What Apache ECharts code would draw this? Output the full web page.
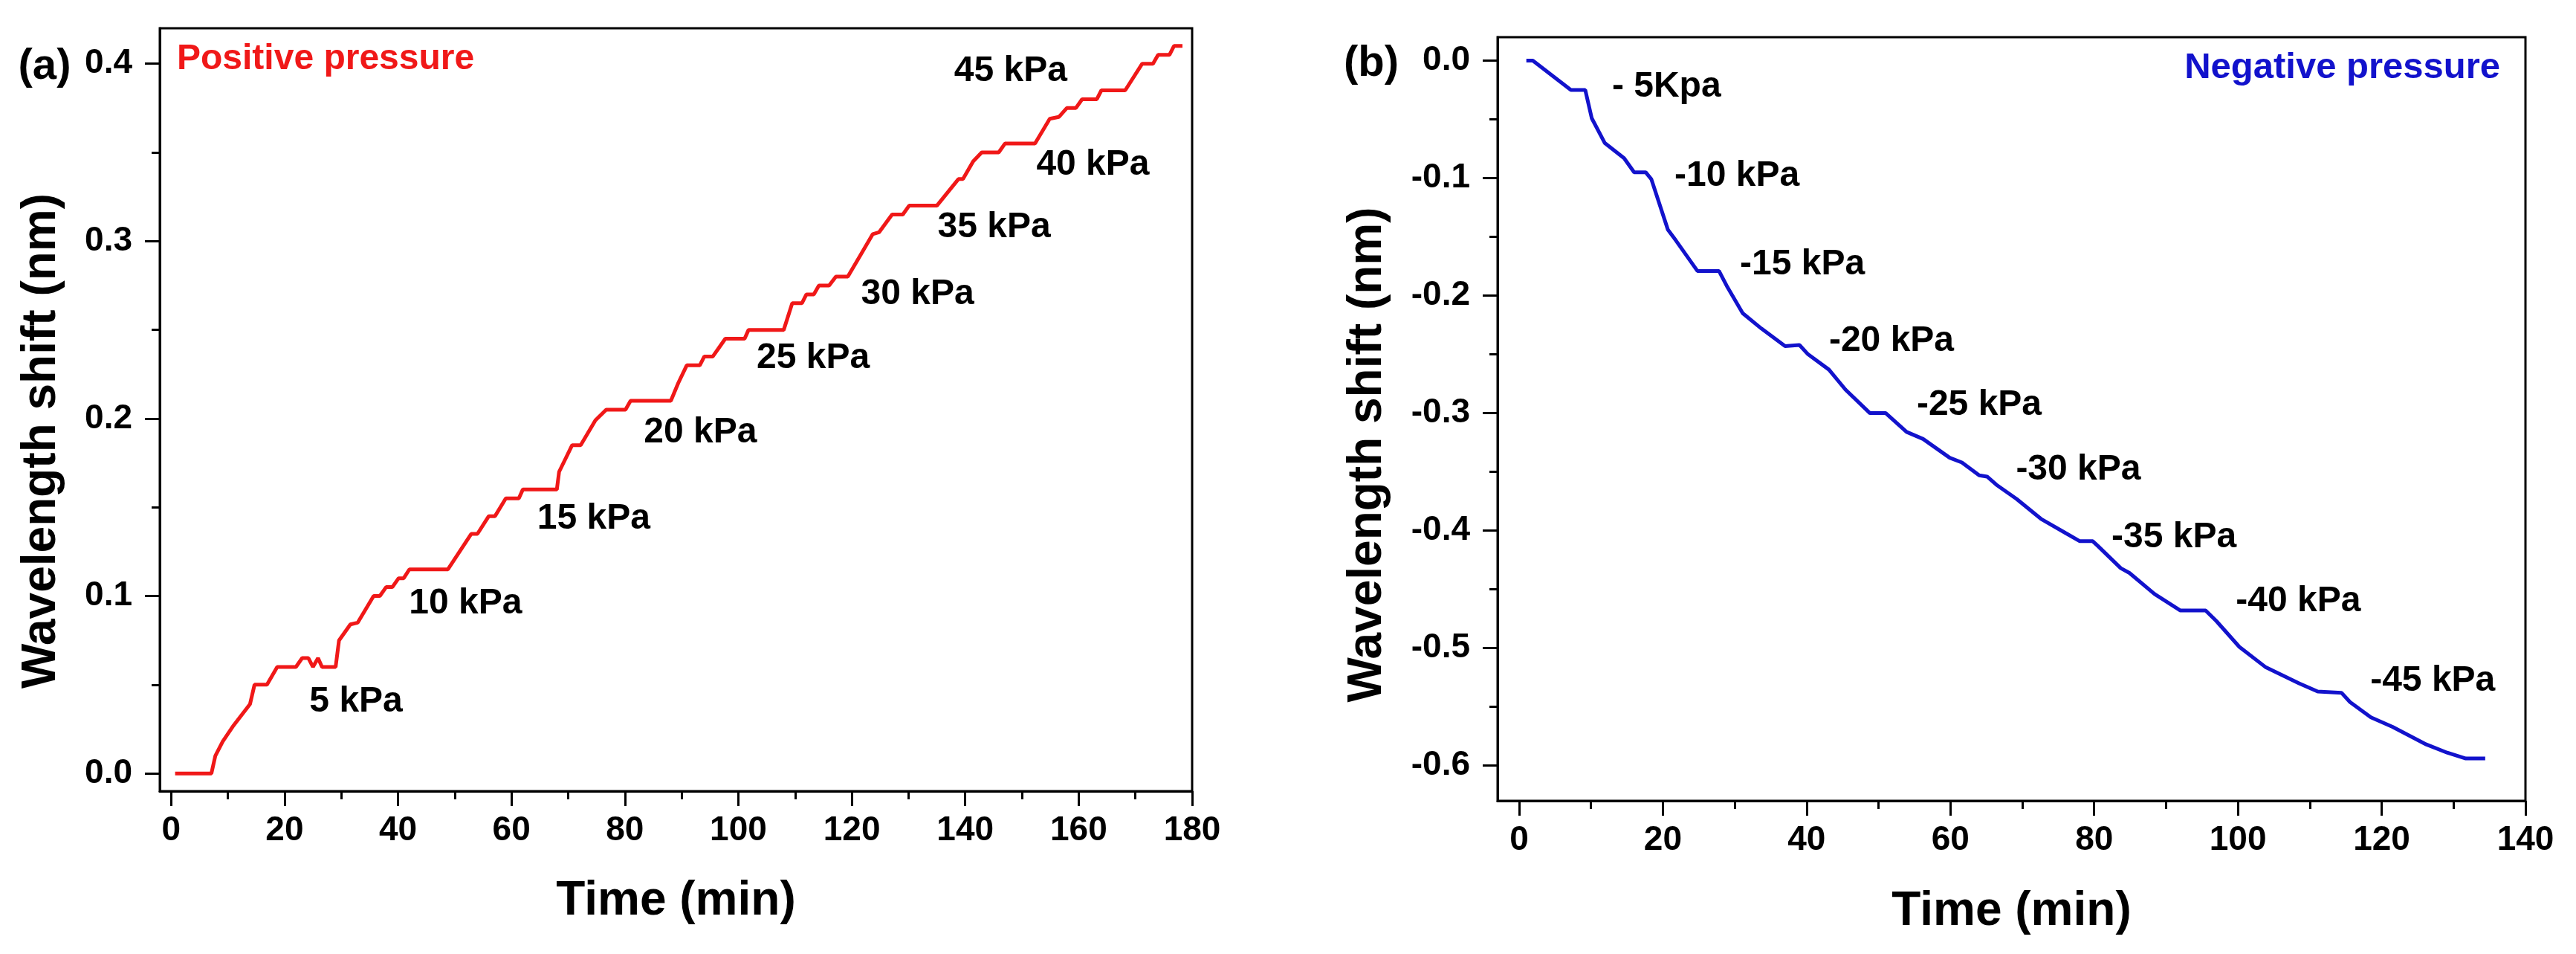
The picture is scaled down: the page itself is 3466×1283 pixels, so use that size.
<!DOCTYPE html>
<html lang="en">
<head>
  <meta charset="UTF-8">
  <title>Wavelength shift vs time</title>
  <style>
    #container, html, body {
      margin: 0;
      padding: 0;
      height: 100%;
      width: 100%;
      background: #fff;
    }
  </style>
</head>
<body>
  <div id="container"></div>
</body>
<script src="https://cdn.jsdelivr.net/npm/echarts@6/dist/echarts.min.js"></script>
<script>
  // (a) positive pressure: [time (min), shift (nm)]
  var positiveShift = [
    [0.7, 0], [7.1, 0], [7.8, 0.010], [9.1, 0.018], [11.0, 0.027], [13.9, 0.039],
    [14.7, 0.050], [16.9, 0.050], [18.7, 0.060], [22.0, 0.060], [23.1, 0.065], [24.2, 0.065],
    [25.0, 0.060], [25.9, 0.065], [26.6, 0.060], [29.0, 0.060], [29.6, 0.075], [31.6, 0.084],
    [32.9, 0.085], [35.7, 0.100], [36.8, 0.100], [37.9, 0.105], [39.0, 0.105], [40.1, 0.110],
    [41.0, 0.110], [42.0, 0.115], [48.8, 0.115], [52.9, 0.135], [54.0, 0.135], [56.0, 0.145],
    [57.1, 0.145], [59.0, 0.155], [61.3, 0.155], [62.0, 0.160], [68.0, 0.160], [68.4, 0.170],
    [70.7, 0.185], [72.2, 0.185], [74.8, 0.199], [76.7, 0.205], [80.1, 0.205], [81.0, 0.210],
    [88.1, 0.210], [89.4, 0.220], [90.9, 0.230], [93.2, 0.230], [94.0, 0.235], [95.5, 0.235],
    [96.6, 0.240], [97.7, 0.245], [101.1, 0.245], [101.8, 0.250], [108.0, 0.250], [109.5, 0.265],
    [111.2, 0.265], [112.0, 0.270], [113.3, 0.270], [114.2, 0.275], [116.0, 0.275], [117.2, 0.280],
    [119.3, 0.280], [121.5, 0.292], [123.7, 0.304], [124.8, 0.305], [127.1, 0.315], [129.0, 0.315],
    [130.1, 0.320], [135.0, 0.320], [138.8, 0.335], [139.6, 0.335], [141.4, 0.345], [142.9, 0.350],
    [145.9, 0.350], [147.0, 0.355], [152.3, 0.355], [154.9, 0.369], [156.5, 0.370], [157.9, 0.375],
    [159.5, 0.375], [160.6, 0.380], [163.2, 0.380], [164.0, 0.385], [168.2, 0.385], [171.2, 0.400],
    [173.1, 0.400], [174.0, 0.405], [176.0, 0.405], [176.8, 0.410], [178.3, 0.410]
  ]

  // (b) negative pressure: [time (min), shift (nm)]
  var negativeShift = [
    [1.0, 0], [1.9, 0], [7.2, -0.025], [9.2, -0.025], [10.1, -0.049], [11.9, -0.070],
    [14.6, -0.083], [16.0, -0.095], [17.6, -0.095], [18.4, -0.101], [20.7, -0.144], [21.8, -0.153],
    [24.8, -0.179], [27.8, -0.179], [29.0, -0.193], [31.1, -0.215], [33.7, -0.228], [37.0, -0.243],
    [39.0, -0.242], [40.2, -0.250], [43.1, -0.263], [45.4, -0.280], [48.8, -0.300], [51.0, -0.300],
    [53.9, -0.316], [56.2, -0.322], [59.9, -0.338], [61.6, -0.342], [64.0, -0.353], [65.1, -0.354],
    [66.4, -0.361], [69.2, -0.373], [72.6, -0.390], [76.0, -0.402], [78.0, -0.409], [79.8, -0.409],
    [80.5, -0.413], [83.7, -0.432], [84.9, -0.436], [88.4, -0.454], [92.0, -0.468], [95.5, -0.468],
    [97.0, -0.477], [100.2, -0.499], [103.8, -0.516], [108.5, -0.530], [111.1, -0.537], [114.4, -0.538],
    [115.6, -0.546], [118.5, -0.559], [121.5, -0.567], [126.2, -0.582], [129.1, -0.589], [131.7, -0.594],
    [134.4, -0.594]
  ]

  // pressure step labels: [time, shift, text]
  var positiveLabels = [
    [32.6, 0.0405, '5 kPa'], [51.9, 0.0956, '10 kPa'], [74.5, 0.1436, '15 kPa'],
    [93.3, 0.1922, '20 kPa'], [113.2, 0.2341, '25 kPa'], [131.6, 0.270, '30 kPa'],
    [145.1, 0.3077, '35 kPa'], [162.5, 0.3428, '40 kPa'], [148.0, 0.3958, '45 kPa']
  ]
  var negativeLabels = [
    [20.5, -0.0222, '- 5Kpa'], [30.3, -0.0985, '-10 kPa'], [39.4, -0.1734, '-15 kPa'],
    [51.8, -0.2386, '-20 kPa'], [64.0, -0.2932, '-25 kPa'], [77.8, -0.3480, '-30 kPa'],
    [91.1, -0.4057, '-35 kPa'], [108.4, -0.4601, '-40 kPa'], [127.1, -0.528, '-45 kPa']
  ]

  // tick values
  var timeTicksA = [0, 20, 40, 60, 80, 100, 120, 140, 160, 180]
  var timeMinorA = [10, 30, 50, 70, 90, 110, 130, 150, 170]
  var shiftTicksA = [0, 0.1, 0.2, 0.3, 0.4]
  var shiftMinorA = [0.05, 0.15, 0.25, 0.35]
  var timeTicksB = [0, 20, 40, 60, 80, 100, 120, 140]
  var timeMinorB = [10, 30, 50, 70, 90, 110, 130]
  var shiftTicksB = [0, -0.1, -0.2, -0.3, -0.4, -0.5, -0.6]
  var shiftMinorB = [-0.05, -0.15, -0.25, -0.35, -0.45, -0.55]

  var FONT = '"Liberation Sans", Arial, sans-serif'
  var RED = '#f01818'
  var BLUE = '#1212cc'

  function tickLabel (ticks, margin, formatter) {
    var label = {
      show: true,
      customValues: ticks,
      margin: margin,
      fontFamily: FONT,
      fontWeight: 'bold',
      fontSize: 46,
      color: '#000'
    }
    if (formatter) label.formatter = formatter
    return label
  }

  function mainAxis (grid, pos, min, max, ticks, opts) {
    return Object.assign({
      type: 'value',
      gridIndex: grid,
      position: pos,
      min: min,
      max: max,
      splitLine: { show: false },
      axisLine: { show: true, onZero: false, lineStyle: { color: '#000', width: 3 } },
      axisTick: { show: true, inside: false, length: 20, customValues: ticks, lineStyle: { color: '#000', width: 3 } },
      nameLocation: 'middle'
    }, opts)
  }

  // second axis on the same side, only for the short minor ticks
  function minorAxis (grid, pos, min, max, ticks) {
    return {
      type: 'value',
      gridIndex: grid,
      position: pos,
      min: min,
      max: max,
      splitLine: { show: false },
      axisLine: { show: false, onZero: false },
      axisTick: { show: true, inside: false, length: 11, customValues: ticks, lineStyle: { color: '#000', width: 3 } },
      axisLabel: { show: false }
    }
  }

  function titleStyle (pad) {
    return { fontFamily: FONT, fontWeight: 'bold', fontSize: 64, color: '#000', padding: pad }
  }

  function stepLabels (xi, yi, list) {
    return {
      type: 'scatter',
      xAxisIndex: xi,
      yAxisIndex: yi,
      symbolSize: 0,
      silent: true,
      data: list,
      itemStyle: { opacity: 1 },
      label: {
        show: true,
        position: 'inside',
        formatter: function (p) { return p.data[2] },
        fontFamily: FONT,
        fontWeight: 'bold',
        fontSize: 48,
        color: '#000',
        opacity: 1
      }
    }
  }

  var oneDecimal = function (v) { return v.toFixed(1) }

  var chart = echarts.init(document.querySelector('#container'))
  var option = {
    animation: false,
    backgroundColor: '#fff',
    grid: [
      { left: 215, top: 38, width: 1389, height: 1026, show: true, borderColor: '#000', borderWidth: 3 },
      { left: 2015, top: 50, width: 1383, height: 1027, show: true, borderColor: '#000', borderWidth: 3 }
    ],
    xAxis: [
      mainAxis(0, 'bottom', -2, 180, timeTicksA, {
        name: 'Time (min)', nameGap: 116, nameTextStyle: titleStyle(0),
        axisLabel: tickLabel(timeTicksA, 30)
      }),
      minorAxis(0, 'bottom', -2, 180, timeMinorA),
      mainAxis(1, 'bottom', -3, 140, timeTicksB, {
        name: 'Time (min)', nameGap: 117, nameTextStyle: titleStyle(0),
        axisLabel: tickLabel(timeTicksB, 30)
      }),
      minorAxis(1, 'bottom', -3, 140, timeMinorB)
    ],
    yAxis: [
      mainAxis(0, 'left', -0.01, 0.42, shiftTicksA, {
        name: 'Wavelength shift (nm)', nameGap: 127, nameTextStyle: titleStyle([0, 84, 0, 0]),
        axisLabel: tickLabel(shiftTicksA, 37, oneDecimal)
      }),
      minorAxis(0, 'left', -0.01, 0.42, shiftMinorA),
      mainAxis(1, 'left', -0.63, 0.02, shiftTicksB, {
        name: 'Wavelength shift (nm)', nameGap: 143, nameTextStyle: titleStyle([0, 96, 0, 0]),
        axisLabel: tickLabel(shiftTicksB, 37, oneDecimal)
      }),
      minorAxis(1, 'left', -0.63, 0.02, shiftMinorB)
    ],
    series: [
      {
        type: 'line',
        xAxisIndex: 0,
        yAxisIndex: 0,
        data: positiveShift,
        showSymbol: false,
        symbol: 'none',
        lineStyle: { color: RED, width: 5 }
      },
      {
        type: 'line',
        xAxisIndex: 2,
        yAxisIndex: 2,
        data: negativeShift,
        showSymbol: false,
        symbol: 'none',
        lineStyle: { color: BLUE, width: 5 }
      },
      stepLabels(0, 0, positiveLabels),
      stepLabels(2, 2, negativeLabels)
    ],
    graphic: [
      { type: 'text', x: 60, y: 90, style: { text: '(a)', font: 'bold 58px ' + FONT, fill: '#000', align: 'center', verticalAlign: 'middle' } },
      { type: 'text', x: 1845, y: 86, style: { text: '(b)', font: 'bold 58px ' + FONT, fill: '#000', align: 'center', verticalAlign: 'middle' } },
      { type: 'text', x: 238, y: 80, style: { text: 'Positive pressure', font: 'bold 48px ' + FONT, fill: RED, align: 'left', verticalAlign: 'middle' } },
      { type: 'text', x: 3364, y: 91, style: { text: 'Negative pressure', font: 'bold 49px ' + FONT, fill: BLUE, align: 'right', verticalAlign: 'middle' } }
    ]
  }
  chart.setOption(option)
  window.onresize = chart.resize
</script>
</html>
